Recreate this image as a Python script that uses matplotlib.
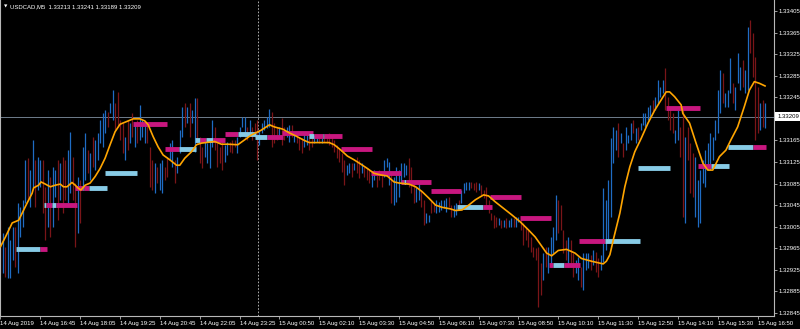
import matplotlib
matplotlib.use("Agg")
import matplotlib.pyplot as plt
from matplotlib.collections import LineCollection
import matplotlib.transforms as mtransforms

# prices are stored in points: price = 1.3 + value * 1e-5
BASE = 1.3
PT = 1e-5

symbol = "USDCAD,M5"
quote = [1.33213, 1.33241, 1.33189, 1.33209]  # open high low close of last bar
last_price = 1.33209

# 5 minute bars, 14 Aug 15:25 .. 15 Aug 17:00
highs = [
    3017, 2993, 2967, 3004, 2980, 3004, 3004, 3049, 3042, 3055,
    3129, 3132, 3110, 3166, 3129, 3134, 3129, 3129, 3079, 3110,
    3097, 3116, 3110, 3129, 3123, 3134, 3129, 3147, 3181, 3134,
    3086, 3097, 3092, 3153, 3179, 3147, 3142, 3171, 3166, 3179,
    3203, 3216, 3221, 3218, 3234, 3258, 3234, 3255, 3203, 3197,
    3171, 3203, 3197, 3216, 3197, 3203, 3231, 3203, 3197, 3197,
    3153, 3129, 3123, 3116, 3123, 3129, 3116, 3134, 3160, 3166,
    3129, 3134, 3185, 3227, 3234, 3227, 3234, 3221, 3244, 3244,
    3171, 3153, 3166, 3160, 3166, 3203, 3190, 3160, 3153, 3166,
    3157, 3162, 3162, 3166, 3166, 3171, 3190, 3208, 3208, 3190,
    3203, 3190, 3197, 3203, 3185, 3197, 3203, 3208, 3223, 3218,
    3197, 3190, 3190, 3207, 3190, 3190, 3194, 3194, 3179, 3179,
    3171, 3170, 3179, 3175, 3179, 3171, 3175, 3171, 3175, 3170,
    3175, 3171, 3179, 3171, 3166, 3157, 3151, 3142, 3129, 3119,
    3123, 3123, 3123, 3134, 3129, 3123, 3116, 3114, 3110, 3106,
    3110, 3105, 3110, 3105, 3129, 3132, 3125, 3105, 3097, 3116,
    3110, 3123, 3123, 3119, 3132, 3116, 3086, 3079, 3086, 3073,
    3055, 3030, 3027, 3055, 3049, 3055, 3051, 3055, 3055, 3058,
    3060, 3045, 3045, 3049, 3055, 3073, 3086, 3088, 3088, 3088,
    3086, 3088, 3086, 3082, 3073, 3079, 3055, 3030, 3027, 3023,
    3021, 3017, 3017, 3021, 3017, 3021, 3021, 3023, 3023, 3017,
    3012, 3004, 2999, 2986, 2967, 2966, 2967, 2938, 2956, 2967,
    2967, 2986, 3004, 3064, 3055, 3045, 2999, 2980, 2986, 2980,
    2956, 2943, 2949, 2930, 2956, 2956, 2956, 2953, 2962, 2958,
    2947, 2953, 3077, 3055, 3092, 3170, 3190, 3185, 3197, 3179,
    3160, 3190, 3175, 3197, 3203, 3188, 3190, 3197, 3216, 3216,
    3227, 3231, 3240, 3246, 3277, 3264, 3277, 3299, 3246, 3227,
    3216, 3185, 3221, 3190, 3221, 3171, 3190, 3160, 3142, 3134,
    3092, 3110, 3129, 3147, 3160, 3179, 3171, 3203, 3258, 3296,
    3290, 3253, 3258, 3318, 3271, 3264, 3327, 3301, 3314, 3296,
    3375, 3388, 3364, 3320, 3264, 3234, 3240, 3234,
]
lows = [
    2919, 2919, 2912, 2910, 2910, 2943, 2930, 2919, 2986, 3004,
    3049, 3055, 3042, 3079, 3042, 3073, 3079, 3030, 2980, 3004,
    2986, 3004, 3060, 3017, 3055, 3030, 3055, 3049, 3067, 3055,
    2967, 2993, 3012, 3079, 3092, 3105, 3092, 3116, 3110, 3129,
    3160, 3153, 3179, 3190, 3216, 3203, 3185, 3190, 3166, 3142,
    3129, 3147, 3160, 3171, 3153, 3160, 3166, 3171, 3160, 3160,
    3079, 3073, 3067, 3086, 3073, 3067, 3092, 3097, 3129, 3116,
    3086, 3105, 3142, 3171, 3190, 3197, 3171, 3197, 3144, 3160,
    3123, 3114, 3134, 3123, 3114, 3153, 3147, 3116, 3123, 3110,
    3125, 3138, 3144, 3142, 3153, 3142, 3171, 3190, 3171, 3166,
    3175, 3166, 3171, 3129, 3157, 3179, 3185, 3188, 3190, 3153,
    3160, 3166, 3170, 3157, 3166, 3171, 3162, 3171, 3162, 3160,
    3147, 3142, 3153, 3157, 3147, 3153, 3160, 3162, 3160, 3160,
    3162, 3160, 3157, 3153, 3144, 3132, 3125, 3106, 3082, 3101,
    3105, 3097, 3110, 3105, 3095, 3105, 3097, 3092, 3086, 3079,
    3092, 3079, 3092, 3079, 3097, 3116, 3082, 3049, 3045, 3051,
    3060, 3086, 3097, 3101, 3079, 3067, 3049, 3051, 3055, 3042,
    3008, 3012, 3014, 3030, 3032, 3030, 3032, 3036, 3040, 3032,
    3042, 3023, 3023, 3027, 3036, 3049, 3067, 3073, 3073, 3077,
    3073, 3069, 3073, 3064, 3058, 3042, 3030, 3017, 3003, 3004,
    3008, 3003, 3004, 3003, 3004, 3004, 3004, 3004, 3014, 2999,
    2971, 2980, 2967, 2958, 2949, 2943, 2856, 2878, 2906, 2930,
    2919, 2930, 2956, 2980, 2993, 2999, 2956, 2943, 2930, 2930,
    2912, 2919, 2906, 2893, 2888, 2925, 2928, 2925, 2934, 2921,
    2912, 2925, 2940, 2962, 2980, 3023, 3123, 3147, 3134, 3160,
    3134, 3147, 3160, 3166, 3179, 3160, 3166, 3185, 3194, 3190,
    3203, 3208, 3216, 3221, 3234, 3246, 3253, 3221, 3203, 3185,
    3179, 3160, 3166, 3134, 3023, 3012, 3129, 3067, 3060, 3023,
    3004, 3012, 3086, 3079, 3110, 3110, 3129, 3166, 3179, 3216,
    3234, 3227, 3227, 3253, 3234, 3221, 3271, 3258, 3264, 3253,
    3258, 3327, 3283, 3166, 3179, 3185, 3190, 3188,
]
# 1 = bull bar, 0 = bear bar
bar_up = [
    0, 1, 0, 1, 1, 1, 0, 1, 1, 1,
    1, 0, 1, 1, 0, 1, 1, 0, 0, 1,
    0, 1, 1, 0, 1, 0, 0, 1, 1, 0,
    0, 1, 0, 1, 1, 0, 1, 0, 1, 1,
    1, 1, 1, 0, 1, 1, 0, 0, 0, 0,
    1, 0, 1, 0, 1, 0, 1, 1, 1, 0,
    0, 0, 1, 0, 1, 1, 0, 0, 1, 1,
    0, 1, 1, 1, 0, 1, 0, 1, 1, 0,
    0, 0, 1, 1, 1, 1, 0, 0, 0, 0,
    1, 1, 0, 0, 0, 1, 1, 1, 1, 0,
    1, 0, 0, 0, 1, 1, 1, 1, 1, 0,
    0, 0, 1, 0, 0, 1, 1, 0, 1, 0,
    0, 0, 1, 1, 0, 0, 1, 1, 0, 1,
    0, 0, 0, 0, 0, 0, 0, 0, 0, 1,
    1, 0, 1, 0, 0, 1, 0, 0, 0, 1,
    1, 0, 0, 0, 1, 1, 1, 0, 1, 1,
    1, 1, 1, 1, 0, 0, 0, 1, 1, 0,
    0, 1, 1, 0, 0, 1, 1, 1, 1, 1,
    0, 0, 1, 1, 0, 1, 1, 1, 1, 0,
    0, 0, 1, 0, 0, 0, 0, 0, 0, 0,
    1, 0, 1, 0, 1, 1, 0, 1, 1, 0,
    0, 0, 0, 0, 0, 0, 0, 0, 1, 0,
    1, 1, 1, 1, 0, 0, 0, 0, 1, 0,
    0, 1, 1, 0, 1, 1, 1, 0, 1, 0,
    0, 1, 1, 1, 1, 1, 1, 1, 0, 1,
    0, 1, 1, 1, 0, 1, 0, 1, 1, 1,
    1, 1, 0, 1, 1, 1, 1, 0, 0, 0,
    0, 1, 1, 0, 0, 1, 0, 0, 0, 1,
    1, 1, 1, 1, 1, 1, 1, 1, 1, 1,
    0, 1, 1, 1, 0, 1, 1, 1, 0, 1,
    1, 0, 0, 0, 0, 1, 0, 1,
]

# moving average, read at bar positions
ma_bar = [0, 2, 4.7, 7.3, 9.3, 10.7, 12.7, 13.3, 15.3, 16.3, 18, 20, 22, 24, 25.3,
          26.7, 28.7, 30, 31.3, 32.3, 34, 36, 38, 40, 42, 44, 46, 48, 50.7, 53.3,
          56, 58, 59.3, 61.3, 63.3, 65.3, 68, 70.7, 72, 74, 76.7, 78.7, 80.7, 86,
          88.7, 91.3, 95.3, 98, 100.7, 104.7, 108, 110, 113.3, 116, 118.7, 122,
          124, 127.3, 132, 134, 136.7, 139.3, 142, 144.7, 147.3, 150, 152.7,
          155.3, 158, 160, 164, 166.7, 169.3, 172, 174.7, 177.3, 180.7, 182.7,
          185.3, 188, 190.7, 194, 196, 198.7, 202, 205.3, 208.7, 212, 214.7,
          217.3, 219.3, 221.3, 224, 227.3, 230.7, 233.3, 237.3, 242, 243.3,
          244.7, 246.3, 248.7, 250.7, 252.7, 254.7, 257.3, 260, 262.7, 265.3,
          267.3, 268.7, 270.7, 273.3, 274, 276.7, 279.3, 282, 284, 286, 288.7,
          291.3, 293.3, 296, 298.7, 300.7, 302.7, 304.7, 307]
ma_val = [2968, 2986, 3012, 3017, 3036, 3049, 3067, 3077, 3082, 3088, 3084, 3079,
          3082, 3084, 3079, 3079, 3087, 3082, 3076, 3073, 3082, 3086, 3098, 3113,
          3132, 3157, 3181, 3195, 3200, 3205, 3205, 3201, 3194, 3172, 3153, 3138,
          3129, 3119, 3119, 3132, 3144, 3157, 3160, 3163, 3158, 3158, 3157, 3166,
          3175, 3184, 3194, 3190, 3186, 3179, 3173, 3165, 3161, 3161, 3161, 3157,
          3147, 3136, 3129, 3121, 3113, 3104, 3101, 3099, 3088, 3086, 3084, 3079,
          3070, 3058, 3045, 3041, 3038, 3035, 3036, 3045, 3055, 3064, 3062, 3051,
          3039, 3027, 3014, 2999, 2986, 2969, 2956, 2951, 2961, 2963, 2956, 2946,
          2941, 2936, 2941, 2953, 2985, 3030, 3079, 3116, 3144, 3169, 3197, 3221,
          3240, 3255, 3255, 3246, 3231, 3215, 3197, 3160, 3123, 3110, 3110, 3135,
          3147, 3166, 3190, 3228, 3258, 3274, 3271, 3266]

# hourly level pieces: start bar, end bar, level, colour key
seg_start = [6.4, 16, 17.3, 18.4, 20.7, 22.4, 30.1, 33.1, 33.6, 35.7, 42.1, 53.1,
             66.1, 71.6, 78, 80, 82.7, 85.3, 90, 95.3, 102, 107.1, 112.9, 124,
             126, 129.3, 130, 136.7, 148.7, 160.7, 162, 163, 172.7, 183.3, 193.7,
             196.7, 208.7, 220.4, 222, 226.4, 232.3, 242.7, 256, 267.3, 280,
             285.3, 292, 302]
seg_end = [16, 18.7, 18.4, 20.7, 22.4, 30.7, 33.1, 33.6, 35.7, 42.7, 54.7, 66.7,
           71.6, 78.4, 80, 82.7, 85.3, 90.3, 95.3, 102.7, 107.1, 113.3, 125.3, 126,
           129.3, 130, 137.3, 149.3, 161, 162, 163, 173, 185, 193.7, 197.3, 209,
           221, 222, 226.4, 232.7, 242.7, 256.7, 268.7, 280.7, 285.3, 292.4, 302,
           307.3]
seg_level = [2963, 2963, 3045, 3045, 3045, 3045, 3077, 3077, 3077, 3077, 3105, 3195,
             3149, 3149, 3165, 3165, 3165, 3165, 3176, 3176, 3172, 3172, 3178, 3174,
             3174, 3174, 3174, 3149, 3105, 3088, 3088, 3088, 3071, 3041, 3041, 3061,
             3022, 2934, 2934, 2934, 2979, 2979, 3114, 3225, 3118, 3118, 3153, 3153]
seg_color = ["b", "m", "b", "m", "b", "m", "m", "b", "m", "b", "b", "m",
             "m", "b", "b", "m", "b", "m", "m", "b", "b", "m", "m", "b",
             "m", "b", "m", "m", "m", "m", "b", "m", "m", "b", "m", "m",
             "m", "m", "b", "m", "m", "b", "b", "m", "m", "b", "b", "m"]

time_ticks = [0, 16, 32, 48, 64, 80, 96, 112, 128, 144, 160, 176, 192, 208, 224,
              240, 256, 272, 288, 304]
time_labels = ["14 Aug 2019", "14 Aug 16:45", "14 Aug 18:05", "14 Aug 19:25",
               "14 Aug 20:45", "14 Aug 22:05", "14 Aug 23:25", "15 Aug 00:50",
               "15 Aug 02:10", "15 Aug 03:30", "15 Aug 04:50", "15 Aug 06:10",
               "15 Aug 07:30", "15 Aug 08:50", "15 Aug 10:10", "15 Aug 11:30",
               "15 Aug 12:50", "15 Aug 14:10", "15 Aug 15:30", "15 Aug 16:50"]
# 1.33205 sits under the current price box, so it is left out
price_ticks = [1.33405, 1.33365, 1.33325, 1.33285, 1.33245, 1.33165,
               1.33125, 1.33085, 1.33045, 1.33005, 1.32965, 1.32925, 1.32885,
               1.32845]
separator_bar = 103.4

UP_COL = "#1f6cc4"
DOWN_COL = "#7a1518"
SEG_COLS = {"b": "#87cbe6", "m": "#c8177f"}
AXIS_COL = "#b8b8b8"
FONT = ["Liberation Sans", "DejaVu Sans"]
FS = 4.3


def px(v):
    return BASE + v * PT


fig = plt.figure(figsize=(8, 3.29), dpi=100, facecolor="black")
ax = fig.add_axes([0, 13 / 329, 774 / 800, 316 / 329])
ax.set_facecolor("black")
ax.set_xlim(-0.2, 310.6)
ax.set_ylim(px(2839.4), px(3425.4))

# bars
segs = [[(i, px(lo)), (i, px(hi))] for i, (hi, lo) in enumerate(zip(highs, lows))]
cols = [UP_COL if u else DOWN_COL for u in bar_up]
ax.add_collection(LineCollection(segs, colors=cols, linewidths=0.9, zorder=2))

# current price line and separator
ax.axhline(last_price, color="#6f7d8c", lw=0.7, zorder=1)
ax.axvline(separator_bar, color="#c8c8c8", lw=0.6, ls=(0, (2, 2)), zorder=1)

# level pieces
for s, e, lv, c in zip(seg_start, seg_end, seg_level, seg_color):
    ax.plot([s, e], [px(lv), px(lv)], color=SEG_COLS[c], lw=3.5,
            solid_capstyle="butt", zorder=3)

# moving average
ax.plot(ma_bar, [px(v) for v in ma_val], color="#ffa500", lw=1.2, zorder=4)

# axes styling
for side in ["left", "bottom", "right"]:
    ax.spines[side].set_color(AXIS_COL)
    ax.spines[side].set_linewidth(0.8)
ax.spines["top"].set_visible(False)

ax.yaxis.tick_right()
ax.set_yticks(price_ticks)
ax.set_yticklabels(["%.5f" % p for p in price_ticks])
ax.set_xticks(time_ticks)
ax.set_xticklabels(time_labels)
ax.tick_params(axis="both", colors=AXIS_COL, length=2.2, width=0.6, pad=1.2,
               labelsize=FS, labelcolor="white")
for lab in ax.get_xticklabels():
    lab.set_horizontalalignment("left")
    lab.set_family(FONT)
for lab in ax.get_yticklabels():
    lab.set_family(FONT)

# current price box on the scale
trans = mtransforms.blended_transform_factory(ax.transAxes, ax.transData)
ax.text(1.004, last_price, "%.5f" % last_price, transform=trans, fontsize=FS,
        family=FONT, color="black", va="center", ha="left", zorder=10,
        clip_on=False,
        bbox=dict(boxstyle="square,pad=0.35", fc="white", ec="white", lw=0))

# header
fig.text(4 / 800, 1 - 6.5 / 329, "\u25bc", fontsize=3.2, color="white",
         va="center", ha="left", family="DejaVu Sans")
fig.text(10 / 800, 1 - 6.5 / 329,
         symbol + "  " + " ".join("%.5f" % q for q in quote),
         fontsize=FS, color="white", va="center", ha="left", family=FONT)

fig.savefig("out.png", dpi=100, facecolor="black")
